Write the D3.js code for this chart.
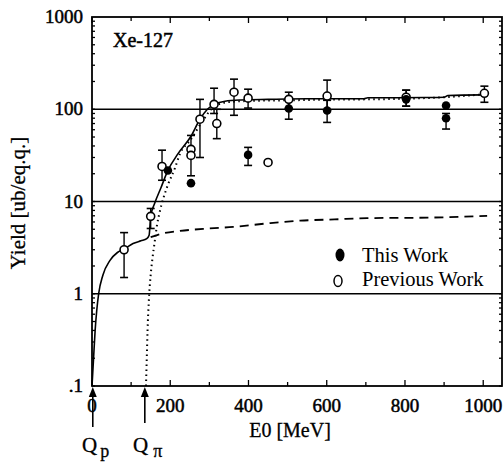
<!DOCTYPE html>
<html><head><meta charset="utf-8">
<script src="https://cdn.jsdelivr.net/npm/d3@7"></script>
<style>
body{margin:0;background:#fff;}
text{font-family:"Liberation Serif","Times New Roman",serif;fill:#000;}
</style></head>
<body><svg id="c" width="504" height="463"></svg>
<script>
// ---- data ----
const xTicks = [0, 200, 400, 600, 800, 1000];
const yTicks = [0.1, 1, 10, 100, 1000];
const yTickLabels = [".1", "1", "10", "100", "1000"];
const gridLevels = [1, 10, 100];

// This Work (filled): [E0, yield, low, high]
const thisWork = [
  [194, 21.7, null, null],
  [253, 15.8, null, null],
  [399, 32, 24.6, 38.6],
  [503, 102, 78, 125],
  [601, 97, 72, 125],
  [803, 128, 108, 161],
  [905, 110, null, null],
  [905, 80, 61, 90]
];
// Previous Work (open)
const previousWork = [
  [82, 3.0, 1.5, 4.6],
  [150, 6.9, 5.1, 8.4],
  [179, 24, 17, 36],
  [253, 36.7, 19, 52],
  [253, 31.6, null, null],
  [276, 78, 30, 128],
  [312, 113, 90, 169],
  [319, 70, 48, 100],
  [363, 153, 86, 212],
  [399, 132, 103, 165],
  [450, 26.5, null, null],
  [503, 128, 102, 153],
  [601, 139, 97, 207],
  [803, 135, 108, 161],
  [1003, 149, 119, 178]
];
// model curves: [E0, yield]
const solidCurve = [
  [0,0.1],[4,0.2],[8,0.4],[12,0.65],[17,1.0],[28,1.6],[46,2.3],[65,2.8],[82,3.05],
  [105,3.5],[125,3.75],[140,3.95],[146,4.3],[150,6.9],[160,9.5],[176,14],[194,21.7],
  [220,33],[253,51],[276,78],[295,100],[312,113],[340,122],[380,126],[450,128],
  [550,130],[695,130],[705,133],[850,134],[900,135],[910,141],[1000,143]
];
const dottedCurve = [
  [138,0.1],[140,0.2],[142,0.4],[145,0.8],[150,1.6],[155,2.5],[160,3.6],[166,5.5],
  [174,8.0],[191,14],[212,23],[225,33],[251,46],[284,76],[310,105],[345,119],
  [400,123],[500,125],[600,127],[700,128],[800,130],[900,135],[1000,145]
];
const dashedCurve = [
  [150,4.1],[180,4.5],[225,4.8],[300,5.1],[361,5.3],[450,5.8],[532,6.2],
  [620,6.4],[703,6.6],[872,6.7],[1010,7.0]
];
const legendLabels = ["This Work", "Previous Work"];
const thresholds = [{E:2, name:"Q", sub:"p"}, {E:135, name:"Q", sub:"π"}];

// ---- layout ----
const svg = d3.select("#c");
const L = 92, R = 502, T = 17, B = 386;
const x = d3.scaleLinear().domain([0, 1048]).range([L, R]);
const y = d3.scaleLog().domain([0.1, 1000]).range([B, T]);

// grid lines
svg.selectAll(".grid").data(gridLevels).join("line")
  .attr("x1", L).attr("x2", R).attr("y1", d=>y(d)).attr("y2", d=>y(d))
  .attr("stroke", "#000").attr("stroke-width", 1.6);

// frame
svg.append("rect").attr("x", L).attr("y", T).attr("width", R-L).attr("height", B-T)
  .attr("fill", "none").attr("stroke", "#000").attr("stroke-width", 1.8);

// x ticks (inward, top and bottom)
const xMinor = d3.range(0, 1001, 100);
xMinor.forEach(v => {
  const len = (v % 200 === 0) ? 6 : 4;
  svg.append("line").attr("x1", x(v)).attr("x2", x(v)).attr("y1", B).attr("y2", B-len)
    .attr("stroke","#000").attr("stroke-width",1.3);
  svg.append("line").attr("x1", x(v)).attr("x2", x(v)).attr("y1", T).attr("y2", T+len)
    .attr("stroke","#000").attr("stroke-width",1.3);
});
// y log ticks (inward, left and right)
const yMinor = [];
[0.1, 1, 10, 100].forEach(d => { for (let k=1;k<10;k++) yMinor.push(d*k); });
yMinor.forEach(v => {
  const len = 3;
  svg.append("line").attr("x1", L).attr("x2", L+len).attr("y1", y(v)).attr("y2", y(v))
    .attr("stroke","#000").attr("stroke-width",1.3);
  svg.append("line").attr("x1", R).attr("x2", R-len).attr("y1", y(v)).attr("y2", y(v))
    .attr("stroke","#000").attr("stroke-width",1.3);
});

// tick labels
svg.selectAll(".xl").data(xTicks).join("text")
  .attr("x", d=>x(d)).attr("y", 412).attr("text-anchor","middle")
  .attr("font-size", 19).attr("stroke","#000").attr("stroke-width",0.5)
  .text(d=>d);
svg.selectAll(".yl").data(yTicks).join("text")
  .attr("x", 83).attr("y", d=>y(d)+6).attr("text-anchor","end")
  .attr("font-size", 19).attr("stroke","#000").attr("stroke-width",0.5)
  .text((d,i)=>yTickLabels[i]);

// axis titles
svg.append("text").attr("x", 290).attr("y", 437).attr("text-anchor","middle")
  .attr("font-size", 20).attr("stroke","#000").attr("stroke-width",0.3).text("E0 [MeV]");
svg.append("text").attr("transform","translate(25,203) rotate(-90)").attr("text-anchor","middle")
  .attr("font-size", 21).attr("stroke","#000").attr("stroke-width",0.3).text("Yield [ub/eq.q.]");

// nuclide label
svg.append("text").attr("x", 113).attr("y", 47).attr("font-size", 20)
  .attr("stroke","#000").attr("stroke-width",0.5).text("Xe-127");

// curves
const line = d3.line().x(d=>x(d[0])).y(d=>y(d[1])).curve(d3.curveMonotoneX);
svg.append("path").attr("d", line(solidCurve)).attr("fill","none")
  .attr("stroke","#000").attr("stroke-width",1.6);
svg.append("path").attr("d", line(dottedCurve)).attr("fill","none")
  .attr("stroke","#000").attr("stroke-width",2).attr("stroke-dasharray","1.5 3.5");
svg.append("path").attr("d", line(dashedCurve)).attr("fill","none")
  .attr("stroke","#000").attr("stroke-width",1.8).attr("stroke-dasharray","9 6");

// error bars
function errBars(data) {
  data.filter(d=>d[2]!=null).forEach(d => {
    const cx = x(d[0]);
    svg.append("line").attr("x1",cx).attr("x2",cx).attr("y1",y(d[2])).attr("y2",y(d[3]))
      .attr("stroke","#000").attr("stroke-width",1.4);
    [d[2], d[3]].forEach(v => svg.append("line").attr("x1",cx-4).attr("x2",cx+4)
      .attr("y1",y(v)).attr("y2",y(v)).attr("stroke","#000").attr("stroke-width",1.6));
  });
}
errBars(previousWork);
errBars(thisWork);

svg.selectAll(".pw").data(previousWork).join("circle")
  .attr("cx", d=>x(d[0])).attr("cy", d=>y(d[1])).attr("r", 4)
  .attr("fill","#fff").attr("stroke","#000").attr("stroke-width",1.6);
svg.selectAll(".tw").data(thisWork).join("circle")
  .attr("cx", d=>x(d[0])).attr("cy", d=>y(d[1])).attr("r", 4.3)
  .attr("fill","#000");

// legend
svg.append("ellipse").attr("cx",340).attr("cy",255).attr("rx",4.5).attr("ry",6.5).attr("fill","#000");
svg.append("ellipse").attr("cx",338).attr("cy",281).attr("rx",4).attr("ry",5.5)
  .attr("fill","#fff").attr("stroke","#000").attr("stroke-width",1.5);
svg.selectAll(".lg").data(legendLabels).join("text")
  .attr("x", 362).attr("y", (d,i)=>262 + i*24).attr("font-size", 20.5).text(d=>d);

// threshold arrows
thresholds.forEach((t,i) => {
  const ax = x(t.E);
  const y0 = i===0 ? 427 : 423;
  svg.append("line").attr("x1",ax).attr("x2",ax).attr("y1",y0).attr("y2",395)
    .attr("stroke","#000").attr("stroke-width",1.6);
  svg.append("path").attr("d",`M${ax},387 L${ax-4},397 L${ax+4},397 Z`).attr("fill","#000");
  const tx = i===0 ? 82 : 133;
  const tt = svg.append("text").attr("x", tx).attr("y", 452).attr("font-size", 21)
    .attr("stroke","#000").attr("stroke-width",0.3);
  tt.append("tspan").text(t.name);
  tt.append("tspan").attr("dx", i===0?3:5).attr("dy", 5).attr("font-size", 18).text(t.sub);
});
</script></body></html>
